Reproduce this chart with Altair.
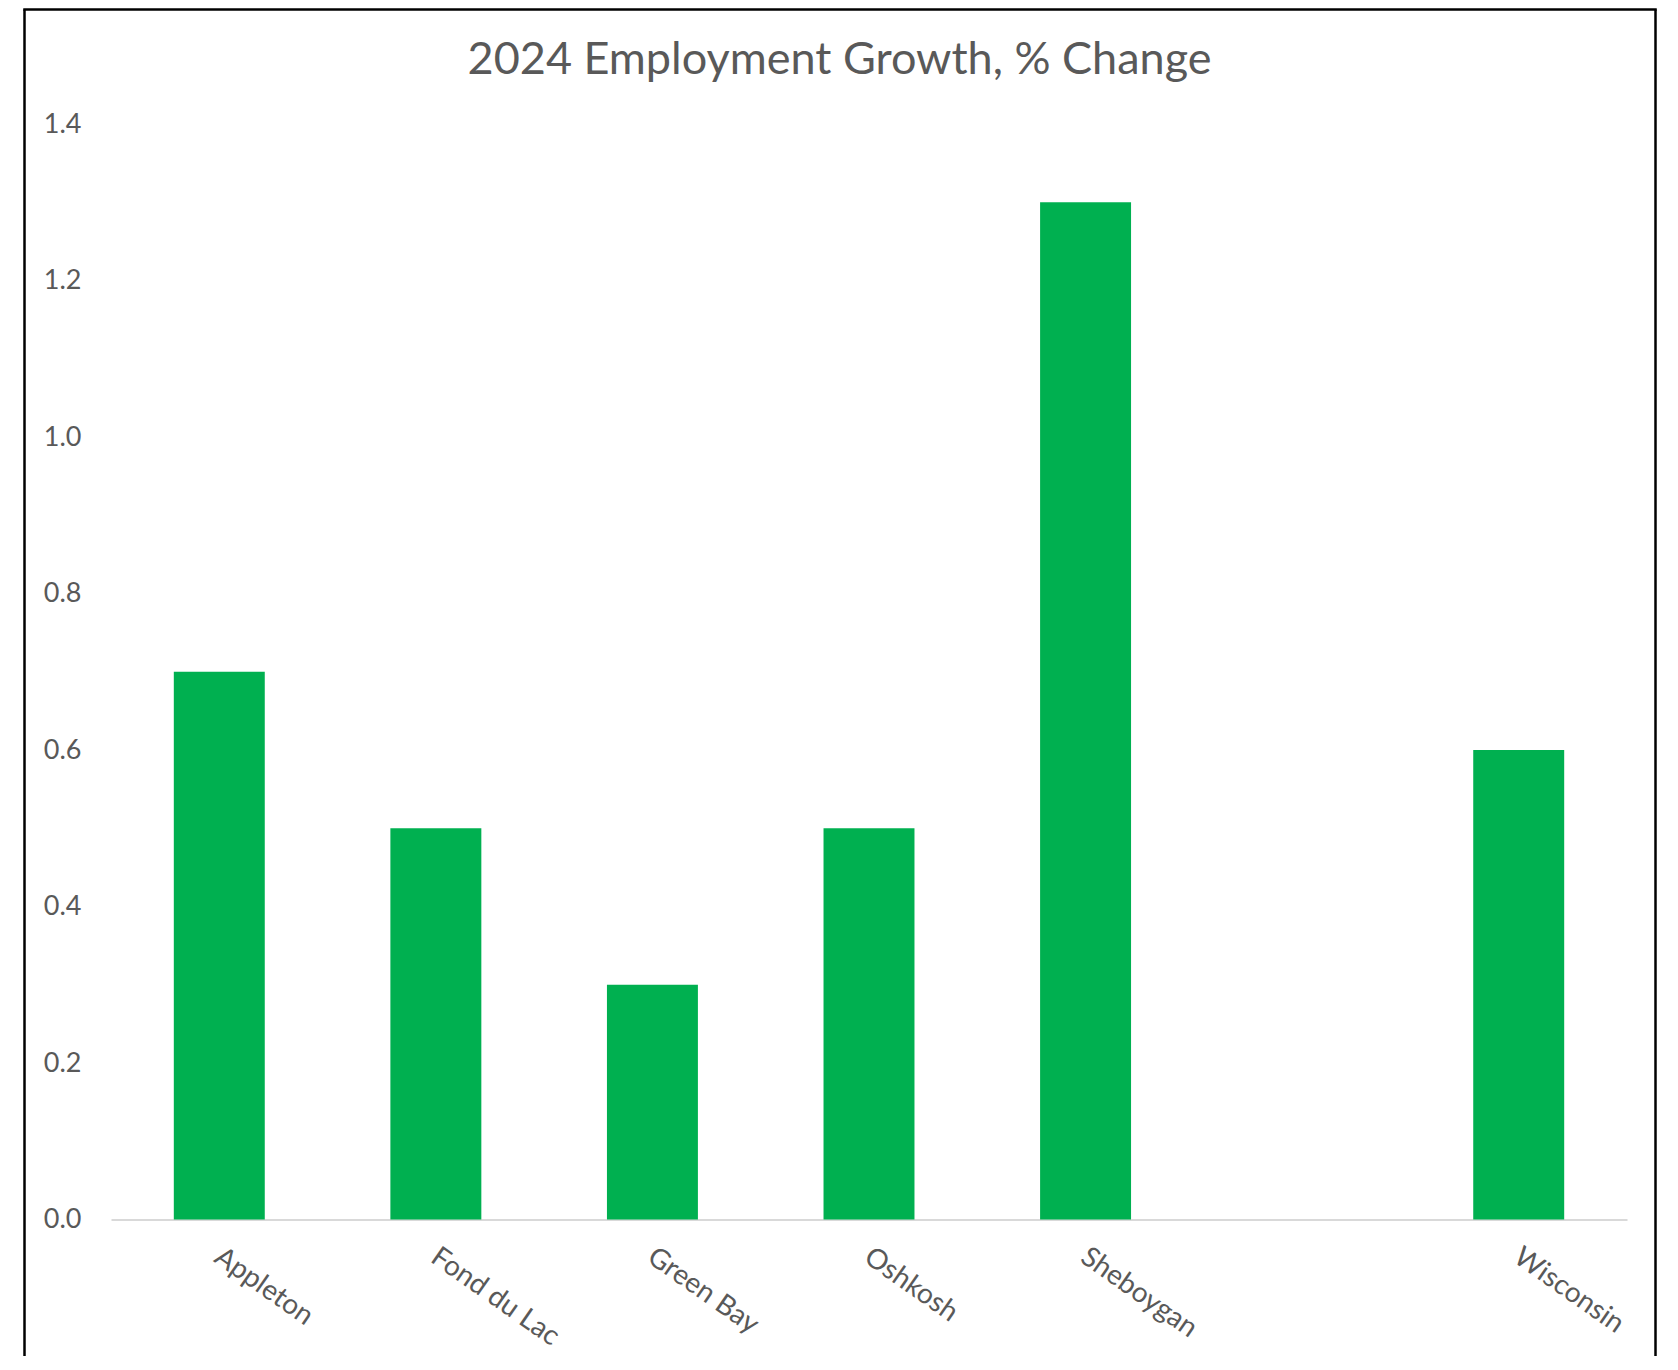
import altair as alt
import pandas as pd

categories = ["Appleton", "Fond du Lac", "Green Bay", "Oshkosh", "Sheboygan", " ", "Wisconsin"]
values = [0.7, 0.5, 0.3, 0.5, 1.3, None, 0.6]
y_ticks = [0.0, 0.2, 0.4, 0.6, 0.8, 1.0, 1.2, 1.4]
title_text = "2024 Employment Growth, % Change"

df = pd.DataFrame({"Area": categories, "Growth": values})

FONT = "Lato"
TEXT = "#595959"

bars = alt.Chart(df).mark_bar(color="#00B050").encode(
    x=alt.X(
        "Area:N",
        sort=categories,
        scale=alt.Scale(domain=categories, paddingInner=0.58, paddingOuter=0.29),
        axis=alt.Axis(
            title=None,
            ticks=False,
            grid=False,
            domain=True,
            domainColor="#D9D9D9",
            domainWidth=2,
            labelAngle=35,
            labelAlign="left",
            labelBaseline="top",
            labelPadding=23,
            labelOffset=6,
            labelFont=FONT,
            labelFontSize=28,
            labelColor=TEXT,
        ),
    ),
    y=alt.Y(
        "Growth:Q",
        scale=alt.Scale(domain=[0, 1.4], nice=False, zero=True),
        axis=alt.Axis(
            title=None,
            values=y_ticks,
            format=".1f",
            ticks=False,
            grid=False,
            domain=False,
            labelPadding=30,
            labelFont=FONT,
            labelFontSize=27,
            labelColor=TEXT,
        ),
    ),
)

frame_src = alt.Data(values=[{"f": 1}])
frame_left = alt.Chart(frame_src).mark_rule(color="black", strokeWidth=2.5).encode(
    x=alt.value(-86.5), y=alt.value(-114.5), y2=alt.value(1240)
)
frame_right = alt.Chart(frame_src).mark_rule(color="black", strokeWidth=2.5).encode(
    x=alt.value(1544.5), y=alt.value(-114.5), y2=alt.value(1240)
)
frame_top = alt.Chart(frame_src).mark_rule(color="black", strokeWidth=2.5).encode(
    x=alt.value(-87.75), x2=alt.value(1545.75), y=alt.value(-114.5)
)

chart = alt.layer(bars, frame_left, frame_right, frame_top).properties(
    width=1516,
    height=1095.5,
    background="white",
    title=alt.TitleParams(
        text=title_text,
        font=FONT,
        fontSize=45,
        fontWeight="normal",
        color=TEXT,
        anchor="middle",
        dx=-29.5,
        dy=111,
        baseline="alphabetic",
        offset=0,
    ),
    autosize=alt.AutoSizeParams(type="none"),
    padding={"left": 103, "top": 116, "right": 31, "bottom": 136},
).configure_view(stroke="transparent", strokeWidth=0)

chart.save("out.html", embed_options={"renderer": "svg", "actions": False})
